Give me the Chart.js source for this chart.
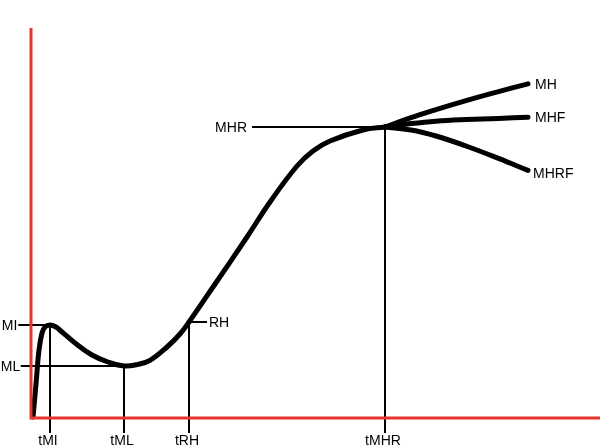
<!DOCTYPE html>
<html>
<head>
<meta charset="utf-8">
<script src="https://cdn.jsdelivr.net/npm/chart.js@4/dist/chart.umd.min.js"></script>
<style>
  html, body { margin: 0; padding: 0; background: #fff; }
  #wrap { width: 600px; height: 448px; position: relative; }
</style>
</head>
<body>
<div id="wrap"><canvas id="growthChart"></canvas></div>
<script>
// main growth curve (time, value)
const curveTime = [0.4, 1.0, 1.6, 2.2, 2.8, 3.8, 5.0, 6.2, 8.8, 12.2, 15.4, 18.6, 21.4, 23.8, 27.2, 29.8, 31.6, 36.4, 43.2, 47.8, 53.2, 56.4, 59.8, 66.4, 70.8];
const curveValue = [0.25, 8.5, 17, 21.25, 22.75, 23.25, 22.75, 21.5, 18.75, 15.75, 14, 13, 13.4, 14.4, 17.75, 21, 24, 32.75, 45.25, 54, 63, 66.75, 69.25, 72, 72.75];

// three branches after MHR
const branchTime = [70.8, 76, 81, 87, 93.5, 99.4];
const branchMH = [72.75, 75.1, 77.1, 79.35, 81.6, 83.55];
const branchMHF = [72.75, 73.6, 74.2, 74.6, 74.9, 75.2];
const branchMHRF = [72.75, 72, 70.5, 68, 64.9, 61.9];
const branchLabels = ["MH", "MHF", "MHRF"];

// marked points on the curve
const milestoneLabels = ["MI", "ML", "RH", "MHR"];
const timeLabels = ["tMI", "tML", "tRH", "tMHR"];
const milestoneTime = [3.8, 18.6, 31.6, 70.8];
const milestoneValue = [23.25, 13, 24, 72.75];

const axisTop = 97.5;
const xMin = -6.2, xMax = 113.8, yMin = -7.5, yMax = 104.5;

// drawing setup
const AXIS_RED = "#e8342c";
const guideEnd = [-2.54, -2.06, 35.2, 44.2];
const labelSide = ["left", "left", "right", "left"];
const labelGap = [1, 0.5, 2, 5];
const guideBottom = -3.75;
const branchOffset = [[7, 1], [7, 1], [5, 4]];

function pts(xs, ys) {
  return xs.map((x, i) => ({ x, y: ys[i] }));
}

function lineSet(data, color, width, extra) {
  return Object.assign({
    data,
    borderColor: color,
    borderWidth: width,
    pointRadius: 0,
    fill: false,
    tension: 0,
  }, extra || {});
}

const curveStyle = { tension: 0.4, borderCapStyle: "round", borderJoinStyle: "round" };

const datasets = [];

// axes
datasets.push(lineSet([{ x: 0, y: axisTop }, { x: 0, y: 0 }, { x: xMax, y: 0 }], AXIS_RED, 3));

// guide lines
milestoneTime.forEach((t, i) => {
  datasets.push(lineSet([{ x: guideEnd[i], y: milestoneValue[i] }, { x: t, y: milestoneValue[i] }], "#000", 2));
  datasets.push(lineSet([{ x: t, y: milestoneValue[i] }, { x: t, y: guideBottom }], "#000", 2));
});

// curves
datasets.push(lineSet(pts(curveTime, curveValue), "#000", 5, curveStyle));
datasets.push(lineSet(pts(branchTime, branchMH), "#000", 5, curveStyle));
datasets.push(lineSet(pts(branchTime, branchMHF), "#000", 5, curveStyle));
datasets.push(lineSet(pts(branchTime, branchMHRF), "#000", 5, curveStyle));

const labelPlugin = {
  id: "labels",
  afterDatasetsDraw(chart) {
    const { ctx } = chart;
    const xs = chart.scales.x, ys = chart.scales.y;
    ctx.save();
    ctx.font = '14px "Liberation Sans", Arial, sans-serif';
    ctx.fillStyle = "#000";
    ctx.textBaseline = "middle";

    milestoneLabels.forEach((label, i) => {
      const px = xs.getPixelForValue(guideEnd[i]);
      const py = ys.getPixelForValue(milestoneValue[i]) + 1;
      if (labelSide[i] === "left") {
        ctx.textAlign = "right";
        ctx.fillText(label, px - labelGap[i], py);
      } else {
        ctx.textAlign = "left";
        ctx.fillText(label, px + labelGap[i], py);
      }
    });

    ctx.textAlign = "center";
    timeLabels.forEach((label, i) => {
      ctx.fillText(label, xs.getPixelForValue(milestoneTime[i]) - 2, ys.getPixelForValue(0) + 23);
    });

    const ends = [branchMH, branchMHF, branchMHRF];
    ctx.textAlign = "left";
    branchLabels.forEach((label, i) => {
      const last = branchTime.length - 1;
      const px = xs.getPixelForValue(branchTime[last]) + branchOffset[i][0];
      const py = ys.getPixelForValue(ends[i][last]) + branchOffset[i][1];
      ctx.fillText(label, px, py);
    });
    ctx.restore();
  },
};

new Chart(document.getElementById("growthChart"), {
  type: "line",
  data: { datasets },
  options: {
    responsive: true,
    maintainAspectRatio: false,
    animation: false,
    layout: { padding: 0 },
    plugins: { legend: { display: false }, tooltip: { enabled: false } },
    scales: {
      x: { type: "linear", min: xMin, max: xMax, display: false },
      y: { type: "linear", min: yMin, max: yMax, display: false },
    },
  },
  plugins: [labelPlugin],
});
</script>
</body>
</html>
